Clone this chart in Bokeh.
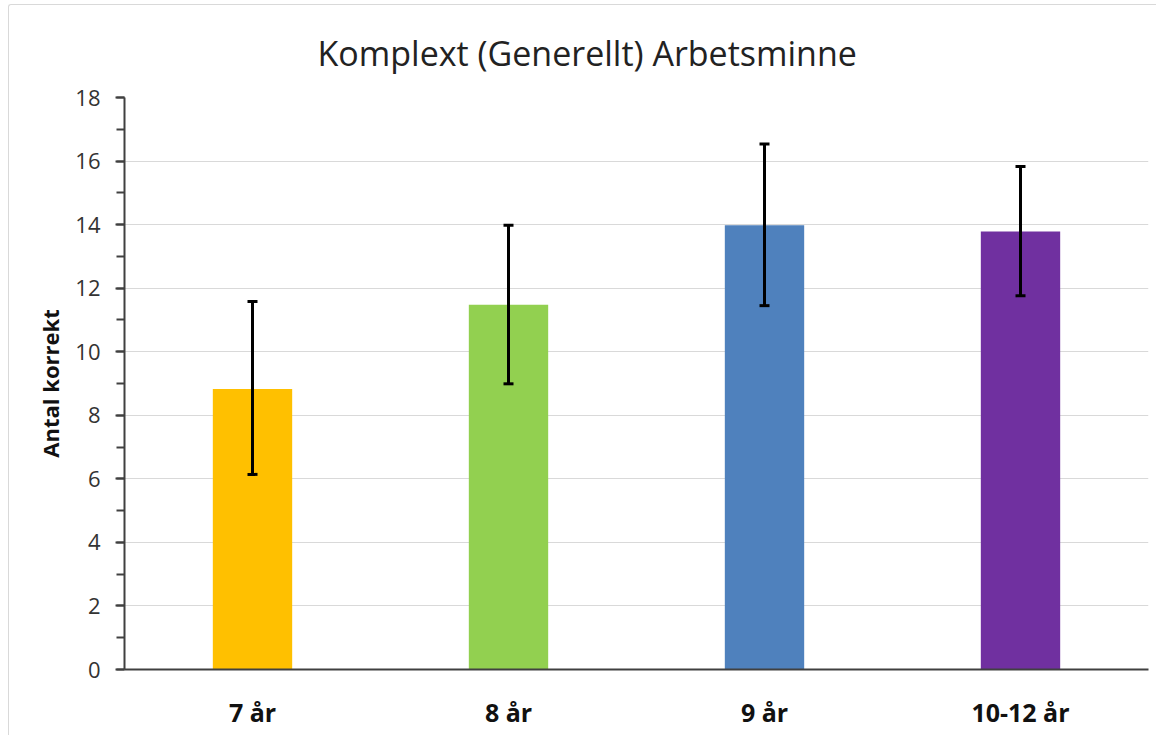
from bokeh.plotting import figure
from bokeh.models import ColumnDataSource, FactorRange, Range1d, Whisker, TeeHead, SingleIntervalTicker
from bokeh.embed import file_html
from bokeh.resources import INLINE

categories = ["7 år", "8 år", "9 år", "10-12 år"]
means = [8.83, 11.48, 13.98, 13.78]
lower = [6.14, 8.99, 11.45, 11.76]
upper = [11.58, 13.98, 16.54, 15.83]
colors = ["#FFC000", "#92D050", "#4F81BD", "#7030A0"]

title_text = "Komplext (Generellt) Arbetsminne"
y_label = "Antal korrekt"

src = ColumnDataSource(dict(cat=categories, mean=means, lower=lower, upper=upper, color=colors))

p = figure(
    x_range=FactorRange(factors=categories, range_padding=0),
    y_range=Range1d(0, 18),
    width=1148, height=731,
    output_backend="svg", toolbar_location=None,
    min_border_left=115, min_border_right=9, min_border_top=92, min_border_bottom=67,
    background_fill_color="white", border_fill_color="white",
)
p.styles = {"border-left": "1px solid #d9d9d9", "border-top": "1px solid #d9d9d9",
            "border-top-left-radius": "3px",
            "margin-left": "8px", "margin-top": "4px"}

p.title.text = title_text
p.title.align = "left"
p.title.offset = 193
p.title.text_font = "Open Sans"
p.title.text_font_size = "34px"
p.title.text_font_style = "normal"
p.title.text_color = "#222222"
p.title.standoff = 44

p.vbar(x="cat", top="mean", width=0.31, source=src, fill_color="color", line_color=None)

w = Whisker(base="cat", lower="lower", upper="upper", source=src,
            line_color="black", line_width=3, level="overlay",
            upper_head=TeeHead(size=10, line_width=3, line_color="black"),
            lower_head=TeeHead(size=10, line_width=3, line_color="black"))
p.add_layout(w)

p.outline_line_color = None
p.xgrid.grid_line_color = None
p.ygrid.grid_line_color = "#d9d9d9"
p.ygrid.grid_line_width = 1

yax = p.yaxis[0]
yax.ticker = SingleIntervalTicker(interval=2, num_minor_ticks=2)
yax.axis_line_color = "#404040"
yax.axis_line_width = 2
yax.major_tick_line_color = "#404040"
yax.minor_tick_line_color = "#404040"
yax.major_tick_line_width = 2
yax.minor_tick_line_width = 2
yax.major_tick_out = 9
yax.major_tick_in = 0
yax.minor_tick_out = 8
yax.minor_tick_in = 0
yax.major_label_text_font = "Open Sans"
yax.major_label_text_font_size = "22px"
yax.major_label_text_color = "#333333"
yax.major_label_standoff = 15
yax.axis_label = y_label
yax.axis_label_text_font = "Open Sans"
yax.axis_label_text_font_style = "bold"
yax.axis_label_text_font_size = "22px"
yax.axis_label_text_color = "#111111"
yax.axis_label_standoff = 7

xax = p.xaxis[0]
xax.axis_line_color = "#404040"
xax.axis_line_width = 2
xax.major_tick_line_color = None
xax.minor_tick_line_color = None
xax.major_label_text_font = "Open Sans"
xax.major_label_text_font_style = "bold"
xax.major_label_text_font_size = "25px"
xax.major_label_text_color = "#111111"
xax.major_label_standoff = 19

open("out.html", "w").write(file_html(p, INLINE))
